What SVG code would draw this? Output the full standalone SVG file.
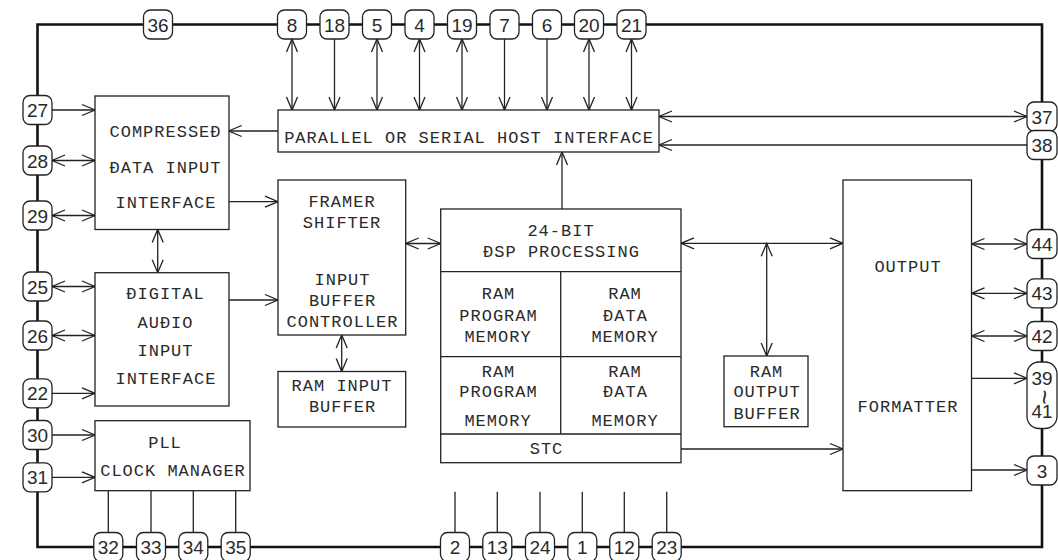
<svg xmlns="http://www.w3.org/2000/svg" width="1058" height="560" viewBox="0 0 1058 560">
<style>
.box{fill:#fff;stroke:#222;stroke-width:1.3}
.dv{stroke:#222;stroke-width:1.3;fill:none}
.pin{fill:#fff;stroke:#222;stroke-width:1.3}
.lbl{font-family:"Liberation Mono",monospace;font-size:17px;letter-spacing:1px;fill:#2a2a2a;text-anchor:middle}
.pn{font-family:"Liberation Sans",Arial,sans-serif;font-size:19px;fill:#2a2a2a;text-anchor:middle}
.c{stroke:#222;stroke-width:1.3;fill:none}
.a{marker-end:url(#ah)}
.b{marker-start:url(#ah);marker-end:url(#ah)}
.border{stroke:#111;stroke-width:2.6;fill:none}
</style>
<defs>
<marker id="ah" markerUnits="userSpaceOnUse" markerWidth="14" markerHeight="12" viewBox="0 0 14 12" refX="13" refY="6" orient="auto-start-reverse" overflow="visible">
<path d="M0,0.5 L13,6 L0,11.5" fill="none" stroke="#222" stroke-width="1.3"/>
</marker>
</defs>
<rect width="1058" height="560" fill="#fff"/>
<path id="border" class="border" d="M37.5,547 L37.5,24.5 L1042,24.5 L1042,547 Z"/>

<g id="connectors">
<path class="c b" d="M292,39 V110"/>
<path class="c a" d="M334.5,39 V110"/>
<path class="c b" d="M377,39 V110"/>
<path class="c b" d="M419.5,39 V110"/>
<path class="c b" d="M462,39 V110"/>
<path class="c a" d="M504.5,39 V110"/>
<path class="c a" d="M547,39 V110"/>
<path class="c b" d="M589,39 V110"/>
<path class="c b" d="M631.5,39 V110"/>
<path class="c b" d="M659,116.5 H1027"/>
<path class="c a" d="M1027,145 H659"/>
<path class="c a" d="M278,131 H228.7"/>
<path class="c a" d="M562,209 V152"/>
<path class="c a" d="M228.7,201.7 H278"/>
<path class="c a" d="M228.7,300 H278"/>
<path class="c b" d="M157.7,229.5 V272.7"/>
<path class="c b" d="M405.7,243.5 H440.7"/>
<path class="c b" d="M341.7,335 V371.5"/>
<path class="c b" d="M681,243.3 H843"/>
<path class="c b" d="M766.7,243.3 V356"/>
<path class="c a" d="M681,449 H843"/>
<path class="c b" d="M971.5,244 H1027"/>
<path class="c b" d="M971.5,293.3 H1027"/>
<path class="c b" d="M971.5,336 H1027"/>
<path class="c a" d="M971.5,378.3 H1027"/>
<path class="c a" d="M971.5,470 H1027"/>
<path class="c a" d="M52,110 H95"/>
<path class="c b" d="M52,160.5 H95"/>
<path class="c b" d="M52,215.5 H95"/>
<path class="c b" d="M52,286.5 H95"/>
<path class="c b" d="M52,335.5 H95"/>
<path class="c a" d="M52,393.3 H95"/>
<path class="c a" d="M52,435 H95"/>
<path class="c a" d="M52,477.3 H95"/>
<path class="c" d="M108.3,490.7 V532.5"/>
<path class="c" d="M151,490.7 V532.5"/>
<path class="c" d="M193.3,490.7 V532.5"/>
<path class="c" d="M235.7,490.7 V532.5"/>
<path class="c" d="M455,491.7 V532.5"/>
<path class="c" d="M497.3,491.7 V532.5"/>
<path class="c" d="M540,491.7 V532.5"/>
<path class="c" d="M582.3,491.7 V532.5"/>
<path class="c" d="M624.3,491.7 V532.5"/>
<path class="c" d="M666.7,491.7 V532.5"/>
</g>

<g id="host">
<rect class="box" x="278" y="110" width="381" height="42"/>
<text class="lbl" x="469" y="143.3">PARALLEL OR SERIAL HOST INTERFACE</text>
</g>
<g id="compressed">
<rect class="box" x="95" y="96" width="134" height="133.5"/>
<text class="lbl" x="165.5" y="137.3">COMPRESSEĐ</text>
<text class="lbl" x="165.5" y="172.7">ĐATA INPUT</text>
<text class="lbl" x="166" y="208.3">INTERFACE</text>
</g>
<g id="digital">
<rect class="box" x="95" y="272.7" width="134" height="133.3"/>
<text class="lbl" x="165.5" y="299">ĐIGITAL</text>
<text class="lbl" x="165.5" y="327.7">AUĐIO</text>
<text class="lbl" x="165.5" y="355.7">INPUT</text>
<text class="lbl" x="166" y="384">INTERFACE</text>
</g>
<g id="pll">
<rect class="box" x="95" y="420.7" width="155" height="70"/>
<text class="lbl" x="165" y="448.3">PLL</text>
<text class="lbl" x="173" y="476">CLOCK MANAGER</text>
</g>
<g id="framer">
<rect class="box" x="278" y="180" width="127.7" height="155"/>
<text class="lbl" x="342" y="207.3">FRAMER</text>
<text class="lbl" x="342" y="228.3">SHIFTER</text>
<text class="lbl" x="342.5" y="285">INPUT</text>
<text class="lbl" x="342.5" y="306">BUFFER</text>
<text class="lbl" x="342.5" y="326.7">CONTROLLER</text>
</g>
<g id="ram-input">
<rect class="box" x="278" y="371.5" width="127.7" height="55.5"/>
<text class="lbl" x="342" y="390.7">RAM INPUT</text>
<text class="lbl" x="342.5" y="412.3">BUFFER</text>
</g>
<g id="dsp">
<rect class="box" x="440.7" y="209" width="240.3" height="253.7"/>
<path class="dv" d="M440.7,271.7 H681 M440.7,356.7 H681 M440.7,434 H681 M560.7,271.7 V434"/>
<text class="lbl" x="561" y="235.7">24-BIT</text>
<text class="lbl" x="561.5" y="256.7">ĐSP PROCESSING</text>
<text class="lbl" x="498.5" y="299">RAM</text>
<text class="lbl" x="498.5" y="320.7">PROGRAM</text>
<text class="lbl" x="498" y="341.7">MEMORY</text>
<text class="lbl" x="625" y="299">RAM</text>
<text class="lbl" x="625.5" y="320.7">ĐATA</text>
<text class="lbl" x="625" y="341.7">MEMORY</text>
<text class="lbl" x="498.5" y="376.7">RAM</text>
<text class="lbl" x="498.5" y="397.3">PROGRAM</text>
<text class="lbl" x="498" y="426">MEMORY</text>
<text class="lbl" x="625" y="376.7">RAM</text>
<text class="lbl" x="625.5" y="397.3">ĐATA</text>
<text class="lbl" x="625" y="426">MEMORY</text>
<text class="lbl" x="546.5" y="454">STC</text>
</g>
<g id="ram-output">
<rect class="box" x="724" y="356" width="84" height="70.7"/>
<text class="lbl" x="766.5" y="376.7">RAM</text>
<text class="lbl" x="767" y="397.3">OUTPUT</text>
<text class="lbl" x="767" y="419.3">BUFFER</text>
</g>
<g id="output">
<rect class="box" x="843" y="180" width="128.5" height="310.7"/>
<text class="lbl" x="908" y="271.7">OUTPUT</text>
<text class="lbl" x="908" y="411.7">FORMATTER</text>
</g>

<g id="pin-36" transform="translate(158,24.5)"><rect class="pin" x="-14.5" y="-14.5" width="29" height="29" rx="7"/><text class="pn" y="7">36</text></g>
<g id="pin-8" transform="translate(292,24.5)"><rect class="pin" x="-14.5" y="-14.5" width="29" height="29" rx="7"/><text class="pn" y="7">8</text></g>
<g id="pin-18" transform="translate(334.5,24.5)"><rect class="pin" x="-14.5" y="-14.5" width="29" height="29" rx="7"/><text class="pn" y="7">18</text></g>
<g id="pin-5" transform="translate(377,24.5)"><rect class="pin" x="-14.5" y="-14.5" width="29" height="29" rx="7"/><text class="pn" y="7">5</text></g>
<g id="pin-4" transform="translate(419.5,24.5)"><rect class="pin" x="-14.5" y="-14.5" width="29" height="29" rx="7"/><text class="pn" y="7">4</text></g>
<g id="pin-19" transform="translate(462,24.5)"><rect class="pin" x="-14.5" y="-14.5" width="29" height="29" rx="7"/><text class="pn" y="7">19</text></g>
<g id="pin-7" transform="translate(504.5,24.5)"><rect class="pin" x="-14.5" y="-14.5" width="29" height="29" rx="7"/><text class="pn" y="7">7</text></g>
<g id="pin-6" transform="translate(547,24.5)"><rect class="pin" x="-14.5" y="-14.5" width="29" height="29" rx="7"/><text class="pn" y="7">6</text></g>
<g id="pin-20" transform="translate(589,24.5)"><rect class="pin" x="-14.5" y="-14.5" width="29" height="29" rx="7"/><text class="pn" y="7">20</text></g>
<g id="pin-21" transform="translate(631.5,24.5)"><rect class="pin" x="-14.5" y="-14.5" width="29" height="29" rx="7"/><text class="pn" y="7">21</text></g>

<g id="pin-27" transform="translate(37.5,110)"><rect class="pin" x="-14.5" y="-14.5" width="29" height="29" rx="7"/><text class="pn" y="7">27</text></g>
<g id="pin-28" transform="translate(37.5,160.5)"><rect class="pin" x="-14.5" y="-14.5" width="29" height="29" rx="7"/><text class="pn" y="7">28</text></g>
<g id="pin-29" transform="translate(37.5,215.5)"><rect class="pin" x="-14.5" y="-14.5" width="29" height="29" rx="7"/><text class="pn" y="7">29</text></g>
<g id="pin-25" transform="translate(37.5,286.5)"><rect class="pin" x="-14.5" y="-14.5" width="29" height="29" rx="7"/><text class="pn" y="7">25</text></g>
<g id="pin-26" transform="translate(37.5,335.5)"><rect class="pin" x="-14.5" y="-14.5" width="29" height="29" rx="7"/><text class="pn" y="7">26</text></g>
<g id="pin-22" transform="translate(37.5,393.3)"><rect class="pin" x="-14.5" y="-14.5" width="29" height="29" rx="7"/><text class="pn" y="7">22</text></g>
<g id="pin-30" transform="translate(37.5,435)"><rect class="pin" x="-14.5" y="-14.5" width="29" height="29" rx="7"/><text class="pn" y="7">30</text></g>
<g id="pin-31" transform="translate(37.5,477.3)"><rect class="pin" x="-14.5" y="-14.5" width="29" height="29" rx="7"/><text class="pn" y="7">31</text></g>

<g id="pin-32" transform="translate(108.3,547)"><rect class="pin" x="-14.5" y="-14.5" width="29" height="29" rx="7"/><text class="pn" y="7">32</text></g>
<g id="pin-33" transform="translate(151,547)"><rect class="pin" x="-14.5" y="-14.5" width="29" height="29" rx="7"/><text class="pn" y="7">33</text></g>
<g id="pin-34" transform="translate(193.3,547)"><rect class="pin" x="-14.5" y="-14.5" width="29" height="29" rx="7"/><text class="pn" y="7">34</text></g>
<g id="pin-35" transform="translate(235.7,547)"><rect class="pin" x="-14.5" y="-14.5" width="29" height="29" rx="7"/><text class="pn" y="7">35</text></g>
<g id="pin-2" transform="translate(455,547)"><rect class="pin" x="-14.5" y="-14.5" width="29" height="29" rx="7"/><text class="pn" y="7">2</text></g>
<g id="pin-13" transform="translate(497.3,547)"><rect class="pin" x="-14.5" y="-14.5" width="29" height="29" rx="7"/><text class="pn" y="7">13</text></g>
<g id="pin-24" transform="translate(540,547)"><rect class="pin" x="-14.5" y="-14.5" width="29" height="29" rx="7"/><text class="pn" y="7">24</text></g>
<g id="pin-1" transform="translate(582.3,547)"><rect class="pin" x="-14.5" y="-14.5" width="29" height="29" rx="7"/><text class="pn" y="7">1</text></g>
<g id="pin-12" transform="translate(624.3,547)"><rect class="pin" x="-14.5" y="-14.5" width="29" height="29" rx="7"/><text class="pn" y="7">12</text></g>
<g id="pin-23" transform="translate(666.7,547)"><rect class="pin" x="-14.5" y="-14.5" width="29" height="29" rx="7"/><text class="pn" y="7">23</text></g>

<g id="pin-37" transform="translate(1042,116.5)"><rect class="pin" x="-15" y="-14.5" width="30" height="29" rx="7"/><text class="pn" y="7">37</text></g>
<g id="pin-38" transform="translate(1042,145)"><rect class="pin" x="-15" y="-14.5" width="30" height="29" rx="7"/><text class="pn" y="7">38</text></g>
<g id="pin-44" transform="translate(1042,244)"><rect class="pin" x="-15" y="-14.5" width="30" height="29" rx="7"/><text class="pn" y="7">44</text></g>
<g id="pin-43" transform="translate(1042,293.3)"><rect class="pin" x="-15" y="-14.5" width="30" height="29" rx="7"/><text class="pn" y="7">43</text></g>
<g id="pin-42" transform="translate(1042,336)"><rect class="pin" x="-15" y="-14.5" width="30" height="29" rx="7"/><text class="pn" y="7">42</text></g>
<g id="pin-39-41">
<rect class="pin" x="1027" y="362" width="30" height="66.5" rx="12"/>
<text class="pn" x="1042" y="385">39</text>
<text class="pn" x="1042" y="403" transform="rotate(90 1042 397)" style="font-size:26px">~</text>
<text class="pn" x="1042" y="417.7">41</text>
</g>
<g id="pin-3" transform="translate(1042,470.5)"><rect class="pin" x="-15" y="-14.5" width="30" height="29" rx="7"/><text class="pn" y="7">3</text></g>
</svg>
